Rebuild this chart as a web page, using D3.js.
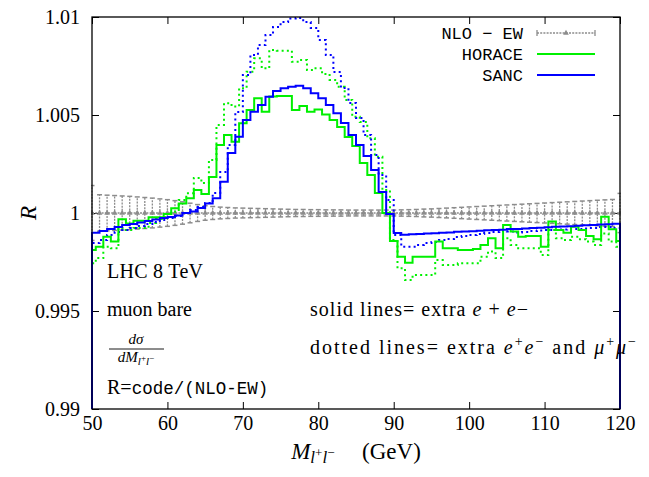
<!DOCTYPE html>
<html><head><meta charset="utf-8">
<script src="https://cdn.jsdelivr.net/npm/d3@7"></script>
<style>body{margin:0;background:#fff}</style>
</head><body>
<svg id="c" width="649" height="477"></svg>
<script>
// ---- data ----
const sancMass = [50,51,52,53,54,55,56,57,58,59,60,61,62,63,64,65,66,67,68,69,70,71,72,73,74,75,76,77,78,79,80,81,82,83,84,85,86,87,88,89,90,91,92,93,94,95,96,97,98,99,100,101,102,103,104,105,106,107,108,109,110,111,112,113,114,115,116,117,118,119];
const sancSolid = [0.99899,0.99908,0.99918,0.99929,0.99939,0.99944,0.99952,0.99959,0.99967,0.99974,0.99980,0.99987,1.00000,1.00008,1.00026,1.00049,1.00075,1.00160,1.00306,1.00389,1.00474,1.00517,1.00551,1.00593,1.00622,1.00636,1.00644,1.00649,1.00636,1.00611,1.00585,1.00551,1.00509,1.00459,1.00398,1.00347,1.00291,1.00219,1.00107,0.99995,0.99898,0.99889,0.99891,0.99893,0.99895,0.99897,0.99899,0.99901,0.99904,0.99906,0.99907,0.99909,0.99912,0.99913,0.99915,0.99918,0.99919,0.99921,0.99924,0.99925,0.99927,0.99930,0.99931,0.99933,0.99935,0.99938,0.99939,0.99941,0.99943,0.99945];
const sancDotted = [0.99847,0.99862,0.99888,0.99903,0.99913,0.99923,0.99934,0.99944,0.99954,0.99964,0.99974,0.99985,1.00000,1.00015,1.00031,1.00051,1.00102,1.00209,1.00347,1.00515,1.00704,1.00806,1.00857,1.00908,1.00949,1.00974,1.00992,1.00995,1.00974,1.00944,1.00883,1.00806,1.00719,1.00638,1.00561,1.00485,1.00398,1.00296,1.00194,1.00066,0.99888,0.99828,0.99828,0.99837,0.99847,0.99852,0.99862,0.99867,0.99878,0.99883,0.99888,0.99893,0.99898,0.99903,0.99908,0.99906,0.99901,0.99903,0.99908,0.99911,0.99913,0.99913,0.99916,0.99918,0.99918,0.99921,0.99923,0.99929,0.99929,0.99923];
const horaceMass = [50,51,52,53,54,55,56,57,58,59,60,61,62,63,64,65,66,67,68,69,70,71,72,73,74,75,76,77,78,79,80,81,82,83,84,85,86,87,88,89,90,91,92,93,94,95,96,97,98,99,100,101,102,103,104,105,106,107,108,109,110,111,112,113,114,115,116,117,118,119,120];
const horaceSolid = [0.99811,0.99828,0.99879,0.99854,0.99968,0.99947,0.99961,0.99961,0.99978,0.99978,0.99995,1.00024,1.00049,1.00075,1.00117,1.00097,1.00184,1.00347,1.00398,1.00364,1.00458,1.00526,1.00585,1.00517,1.00594,1.00597,1.00597,1.00526,1.00546,1.00517,1.00528,1.00503,1.00474,1.00439,1.00388,1.00342,1.00255,1.00194,1.00102,1.00000,0.99857,0.99777,0.99746,0.99777,0.99777,0.99777,0.99854,0.99820,0.99820,0.99811,0.99811,0.99816,0.99837,0.99871,0.99820,0.99939,0.99905,0.99879,0.99883,0.99883,0.99828,0.99956,0.99913,0.99899,0.99930,0.99913,0.99883,0.99866,0.99981,0.99917,0.99857];
const horaceDotted = [0.99743,0.99770,0.99828,0.99820,0.99922,0.99913,0.99923,0.99923,0.99949,0.99969,0.99980,1.00007,1.00066,1.00101,1.00179,1.00153,1.00270,1.00449,1.00560,1.00543,1.00636,1.00721,1.00789,1.00738,1.00832,1.00828,1.00828,1.00772,1.00781,1.00730,1.00738,1.00709,1.00679,1.00644,1.00577,1.00491,1.00464,1.00381,1.00287,1.00117,0.99862,0.99718,0.99658,0.99684,0.99684,0.99684,0.99760,0.99735,0.99735,0.99743,0.99743,0.99743,0.99777,0.99803,0.99770,0.99871,0.99837,0.99820,0.99820,0.99820,0.99786,0.99913,0.99871,0.99862,0.99879,0.99866,0.99854,0.99837,0.99896,0.99854,0.99828];
const nloMass = [50,51,52,53,54,55,56,57,58,59,60,61,62,63,64,65,66,67,68,69,70,71,72,73,74,75,76,77,78,79,80,81,82,83,84,85,86,87,88,89,90,91,92,93,94,95,96,97,98,99,100,101,102,103,104,105,106,107,108,109,110,111,112,113,114,115,116,117,118,119,120];
const nloRatio = [1,1,1,1,1,1,1,1,1,1,1,1,1,1,1,1,1,1,1,1,1,1,1,1,1,1,1,1,1,1,1,1,1,1,1,1,1,1,1,1,1,1,1,1,1,1,1,1,1,1,1,1,1,1,1,1,1,1,1,1,1,1,1,1,1,1,1,1,1,1,1];
const nloErr = [0.00140,0.00093,0.00091,0.00089,0.00087,0.00085,0.00082,0.00079,0.00076,0.00072,0.00068,0.00063,0.00057,0.00050,0.00043,0.00037,0.00033,0.00030,0.00028,0.00026,0.00025,0.00024,0.00023,0.00022,0.00021,0.00020,0.00019,0.00018,0.00018,0.00017,0.00017,0.00016,0.00016,0.00016,0.00015,0.00015,0.00015,0.00015,0.00015,0.00015,0.00015,0.00016,0.00017,0.00018,0.00020,0.00021,0.00023,0.00025,0.00027,0.00029,0.00031,0.00033,0.00035,0.00037,0.00039,0.00041,0.00043,0.00045,0.00047,0.00049,0.00051,0.00053,0.00055,0.00057,0.00059,0.00061,0.00063,0.00065,0.00067,0.00069,0.00100];
const xTicks = [50,60,70,80,90,100,110,120];
const yTicks = [0.99,0.995,1,1.005,1.01];
const yTickLabels = ["0.99","0.995","1","1.005","1.01"];
const legendNames = ["NLO \u2212 EW","HORACE","SANC"];

// ---- layout ----
const L = 92, R = 620, T = 17, B = 409;
const svg = d3.select("#c");
const x = d3.scaleLinear().domain([50,120]).range([L,R]);
const y = d3.scaleLinear().domain([0.99,1.01]).range([B,T]);
const serif = "'Liberation Serif','Times New Roman',serif";
const mono = "'Liberation Mono','DejaVu Sans Mono',monospace";
const GREEN = "#00f000", BLUE = "#0000ff", GRAY = "#8c8c8c";

svg.append("defs").append("clipPath").attr("id","clip")
  .append("rect").attr("x",L-1).attr("y",T).attr("width",R-L+2).attr("height",B-T);

// axes (inward ticks on all four sides)
function styleAxis(g){ g.select(".domain").remove(); g.selectAll(".tick line").attr("stroke","#000").attr("stroke-width",1);
  g.selectAll("text").attr("font-family",serif).attr("font-size",20).attr("fill","#000"); }
svg.append("g").attr("transform",`translate(0,${B})`)
  .call(d3.axisBottom(x).tickValues(xTicks).tickSize(-7).tickPadding(7).tickFormat(d3.format("d"))).call(styleAxis);
svg.append("g").attr("transform",`translate(0,${T})`)
  .call(d3.axisTop(x).tickValues(xTicks).tickSize(-7).tickFormat("")).call(styleAxis);
svg.append("g").attr("transform",`translate(${L},0)`)
  .call(d3.axisLeft(y).tickValues(yTicks).tickSize(-7).tickPadding(12).tickFormat((d,i)=>yTickLabels[i])).call(styleAxis);
svg.append("g").attr("transform",`translate(${R},0)`)
  .call(d3.axisRight(y).tickValues(yTicks).tickSize(-7).tickFormat("")).call(styleAxis);

const plot = svg.append("g").attr("clip-path","url(#clip)");

// NLO-EW reference with error bars
const nlo = nloMass.map((m,i)=>({m, r:nloRatio[i], e:nloErr[i]}));
const eb = plot.append("g").attr("stroke",GRAY).attr("fill","none");
eb.selectAll("line.bar").data(nlo).join("line").attr("class","bar")
  .attr("x1",d=>x(d.m)).attr("x2",d=>x(d.m)).attr("y1",d=>y(d.r-d.e)).attr("y2",d=>y(d.r+d.e))
  .attr("stroke-width",1.3).attr("stroke-dasharray","2,1.2");
eb.selectAll("line.capt").data(nlo).join("line").attr("class","capt")
  .attr("x1",d=>x(d.m)-2.5).attr("x2",d=>x(d.m)+2.5).attr("y1",d=>y(d.r+d.e)).attr("y2",d=>y(d.r+d.e)).attr("stroke-width",1.5);
eb.selectAll("line.capb").data(nlo).join("line").attr("class","capb")
  .attr("x1",d=>x(d.m)-2.5).attr("x2",d=>x(d.m)+2.5).attr("y1",d=>y(d.r-d.e)).attr("y2",d=>y(d.r-d.e)).attr("stroke-width",1.5);
plot.append("path").datum(nlo).attr("fill","none").attr("stroke",GRAY).attr("stroke-width",1.3)
  .attr("stroke-dasharray","2,1.2").attr("d",d3.line().x(d=>x(d.m)).y(d=>y(d.r)));
const tri = d3.symbol().type(d3.symbolTriangle).size(14);
plot.append("g").selectAll("path").data(nlo).join("path").attr("d",tri)
  .attr("transform",d=>`translate(${x(d.m)},${y(d.r)})`).attr("fill",GRAY);

// histograms
function stepPts(lo, hi, vals){
  const pts = [[lo[0], null]];
  vals.forEach((v,i)=>{ pts.push([lo[i],v]); pts.push([hi[i],v]); });
  pts.push([hi[hi.length-1], null]);
  return pts;
}
const line = d3.line().x(p=>x(p[0])).y(p=>p[1]===null ? B+5 : y(p[1]));
const sLo = sancMass, sHi = sancMass.map(m=>m+1);
const hLo = horaceMass.map(m=>Math.max(50,m-0.5)), hHi = horaceMass.map(m=>Math.min(120,m+0.5));
function hist(lo,hi,vals,color,dotted){
  plot.append("path").attr("d",line(stepPts(lo,hi,vals))).attr("fill","none")
    .attr("stroke",color).attr("stroke-width",2)
    .attr("stroke-dasharray",dotted?"2,3.2":null).attr("stroke-linejoin","miter");
}
hist(hLo,hHi,horaceDotted,GREEN,true);
hist(sLo,sHi,sancDotted,BLUE,true);
hist(hLo,hHi,horaceSolid,GREEN,false);
hist(sLo,sHi,sancSolid,BLUE,false);

// frame
svg.append("rect").attr("x",L).attr("y",T).attr("width",R-L).attr("height",B-T)
  .attr("fill","none").attr("stroke","#000").attr("stroke-width",1.3);

// legend
const lg = svg.append("g");
const legY = [33,54,75];
legendNames.forEach((n,i)=>{
  lg.append("text").attr("x",523).attr("y",legY[i]+5.5).attr("text-anchor","end")
    .attr("font-family",mono).attr("font-size",17).attr("fill","#000").text(n);
});
lg.append("line").attr("x1",537).attr("x2",595).attr("y1",legY[0]).attr("y2",legY[0])
  .attr("stroke",GRAY).attr("stroke-width",1.3).attr("stroke-dasharray","2,1.2");
[537,595].forEach(px=>lg.append("line").attr("x1",px).attr("x2",px).attr("y1",legY[0]-3).attr("y2",legY[0]+3).attr("stroke",GRAY).attr("stroke-width",1.3));
lg.append("path").attr("d",tri).attr("transform",`translate(566,${legY[0]})`).attr("fill",GRAY);
lg.append("line").attr("x1",537).attr("x2",595).attr("y1",legY[1]).attr("y2",legY[1]).attr("stroke",GREEN).attr("stroke-width",2);
lg.append("line").attr("x1",537).attr("x2",595).attr("y1",legY[2]).attr("y2",legY[2]).attr("stroke",BLUE).attr("stroke-width",2);

// annotations
const ann = svg.append("g").attr("font-family",serif).attr("font-size",20).attr("fill","#000");
ann.append("text").attr("x",107).attr("y",278).attr("textLength",96).attr("lengthAdjust","spacing").text("LHC 8 TeV");
ann.append("text").attr("x",107).attr("y",316).text("muon bare");
const t1 = ann.append("text").attr("x",310).attr("y",316).attr("textLength",218).attr("lengthAdjust","spacing");
t1.append("tspan").text("solid lines= extra ");
t1.append("tspan").attr("font-style","italic").text("e");
t1.append("tspan").text(" + ");
t1.append("tspan").attr("font-style","italic").text("e");
t1.append("tspan").text("\u2212");
const t2 = ann.append("text").attr("x",310).attr("y",354).attr("textLength",326).attr("lengthAdjust","spacing");
t2.append("tspan").text("dotted lines= extra ");
t2.append("tspan").attr("font-style","italic").text("e");
t2.append("tspan").attr("font-size",14).attr("dy",-8).text("+");
t2.append("tspan").attr("font-style","italic").attr("dy",8).text("e");
t2.append("tspan").attr("font-size",14).attr("dy",-8).text("\u2212");
t2.append("tspan").attr("dy",8).text(" and ");
t2.append("tspan").attr("font-style","italic").text("\u03bc");
t2.append("tspan").attr("font-size",14).attr("dy",-8).text("+");
t2.append("tspan").attr("font-style","italic").attr("dy",8).text("\u03bc");
t2.append("tspan").attr("font-size",14).attr("dy",-8).text("\u2212");
// fraction
ann.append("text").attr("x",136).attr("y",344).attr("text-anchor","middle").attr("font-size",15).attr("font-style","italic").text("d\u03c3");
svg.append("line").attr("x1",109).attr("x2",164).attr("y1",349).attr("y2",349).attr("stroke","#000").attr("stroke-width",0.9);
const fd = ann.append("text").attr("x",136).attr("y",362).attr("text-anchor","middle").attr("font-size",15).attr("font-style","italic");
fd.append("tspan").text("dM");
fd.append("tspan").attr("font-size",11).attr("dy",3).text("l");
fd.append("tspan").attr("font-size",9).attr("dy",-4).attr("font-style","normal").text("+");
fd.append("tspan").attr("font-size",11).attr("dy",4).text("l");
fd.append("tspan").attr("font-size",9).attr("dy",-4).attr("font-style","normal").text("\u2212");
const t3 = ann.append("text").attr("x",107).attr("y",394);
t3.append("tspan").text("R=");
t3.append("tspan").attr("font-family",mono).attr("font-size",17.5).text("code/(NLO-EW)");

// axis titles
const xt = svg.append("text").attr("x",(L+R)/2).attr("y",459).attr("text-anchor","middle")
  .attr("font-family",serif).attr("font-size",23).attr("fill","#000");
xt.append("tspan").attr("font-style","italic").text("M");
xt.append("tspan").attr("font-style","italic").attr("font-size",17).attr("dy",4).text("l");
xt.append("tspan").attr("font-size",13).attr("dy",-6).text("+");
xt.append("tspan").attr("font-style","italic").attr("font-size",17).attr("dy",6).text("l");
xt.append("tspan").attr("font-size",13).attr("dy",-6).text("\u2212");
xt.append("tspan").attr("dy",2).text("\u2003\u2009(GeV)");
svg.append("text").attr("transform","translate(36,213) rotate(-90)").attr("text-anchor","middle")
  .attr("font-family",serif).attr("font-size",23).attr("font-style","italic").attr("fill","#000").text("R");
</script>
</body></html>
